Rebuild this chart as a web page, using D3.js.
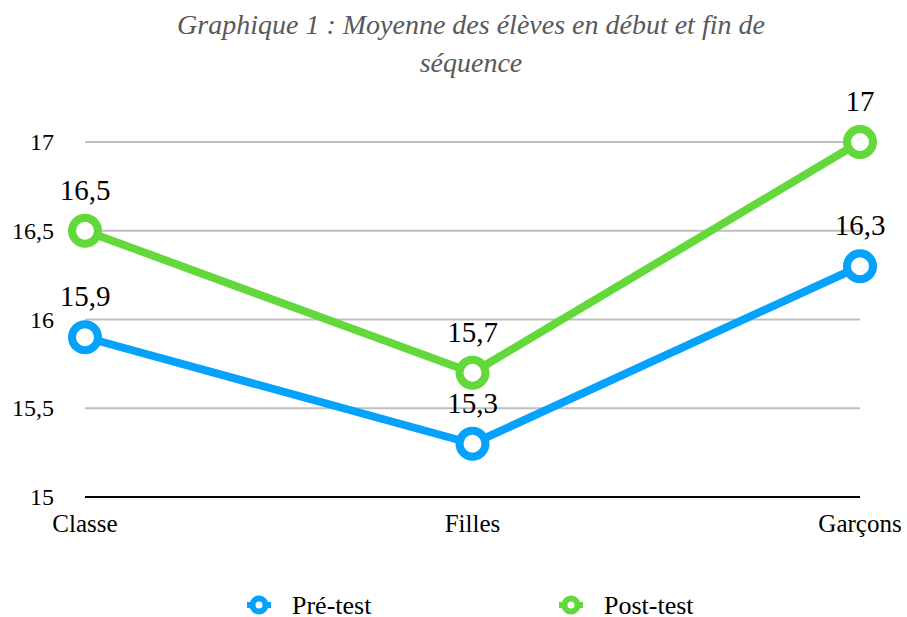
<!DOCTYPE html>
<html>
<head>
<meta charset="utf-8">
<script src="https://cdn.jsdelivr.net/npm/d3@7"></script>
<style>
  body { margin: 0; background: #fff; }
  svg { display: block; }
</style>
</head>
<body>
<svg id="chart" width="907" height="617"></svg>
<script>
// Chart data
const categories = ["Classe", "Filles", "Garçons"];
const seriesNames = ["Pré-test", "Post-test"];
const preTest = [15.9, 15.3, 16.3];
const postTest = [16.5, 15.7, 17];
const yTicks = [15, 15.5, 16, 16.5, 17];
const titleLines = ["Graphique 1 : Moyenne des élèves en début et fin de", "séquence"];

const colors = ["#04a2fa", "#62d83a"];
const fontName = "Liberation Serif"; // single family name, lists don't resolve here
const svg = d3.select("#chart");

// Scales
const x = d3.scalePoint().domain(categories).range([85, 860]);
const y = d3.scaleLinear().domain([15, 17]).range([497, 142]);
const fmt = v => String(v).replace(".", ",");

// Title
svg.append("g").selectAll("text")
  .data(titleLines)
  .enter()
  .append("text")
  .attr("x", 471)
  .attr("y", (d, i) => 34 + i * 38)
  .attr("text-anchor", "middle")
  .attr("font-family", fontName)
  .attr("font-style", "italic")
  .attr("font-size", 28)
  .attr("fill", "#595959")
  .text(d => d);

// Gridlines
svg.append("g").selectAll("line")
  .data(yTicks.filter(t => t !== 15))
  .enter()
  .append("line")
  .attr("x1", 85).attr("x2", 860)
  .attr("y1", d => y(d)).attr("y2", d => y(d))
  .attr("stroke", "#bfbfbf")
  .attr("stroke-width", 2);

// Y axis labels
svg.append("g").selectAll("text")
  .data(yTicks)
  .enter()
  .append("text")
  .attr("x", 54)
  .attr("y", d => y(d) + 8)
  .attr("text-anchor", "end")
  .attr("font-family", fontName)
  .attr("font-size", 24)
  .attr("fill", "#000")
  .text(fmt);

// Baseline
svg.append("line")
  .attr("x1", 85).attr("x2", 860)
  .attr("y1", y(15)).attr("y2", y(15))
  .attr("stroke", "#000")
  .attr("stroke-width", 2);

// Category labels
svg.append("g").selectAll("text")
  .data(categories)
  .enter()
  .append("text")
  .attr("x", d => x(d))
  .attr("y", 532)
  .attr("text-anchor", "middle")
  .attr("font-family", fontName)
  .attr("font-size", 25)
  .attr("fill", "#000")
  .text(d => d);

// Lines and markers
const series = [preTest, postTest];
const line = d3.line()
  .x((d, i) => x(categories[i]))
  .y(d => y(d));

series.forEach((values, s) => {
  const g = svg.append("g");
  g.append("path")
    .datum(values)
    .attr("d", line)
    .attr("fill", "none")
    .attr("stroke", colors[s])
    .attr("stroke-width", 8)
    .attr("stroke-linejoin", "round");

  g.selectAll("circle")
    .data(values)
    .enter()
    .append("circle")
    .attr("cx", (d, i) => x(categories[i]))
    .attr("cy", d => y(d))
    .attr("r", 13)
    .attr("fill", "#fff")
    .attr("stroke", colors[s])
    .attr("stroke-width", 8);

  g.selectAll("text")
    .data(values)
    .enter()
    .append("text")
    .attr("x", (d, i) => x(categories[i]))
    .attr("y", d => y(d) - 31)
    .attr("text-anchor", "middle")
    .attr("font-family", fontName)
    .attr("font-size", 29)
    .attr("fill", "#000")
    .text(fmt);
});

// Legend
const legendX = [259, 571];
const legend = svg.append("g").selectAll("g")
  .data(seriesNames)
  .enter()
  .append("g")
  .attr("transform", (d, i) => `translate(${legendX[i]}, 605)`);

legend.append("line")
  .attr("x1", -12).attr("x2", 12)
  .attr("stroke", (d, i) => colors[i])
  .attr("stroke-width", 6);

legend.append("circle")
  .attr("r", 6.5)
  .attr("fill", "#fff")
  .attr("stroke", (d, i) => colors[i])
  .attr("stroke-width", 6);

legend.append("text")
  .attr("x", 33)
  .attr("y", 9)
  .attr("font-family", fontName)
  .attr("font-size", 26)
  .attr("fill", "#000")
  .text(d => d);
</script>
</body>
</html>
